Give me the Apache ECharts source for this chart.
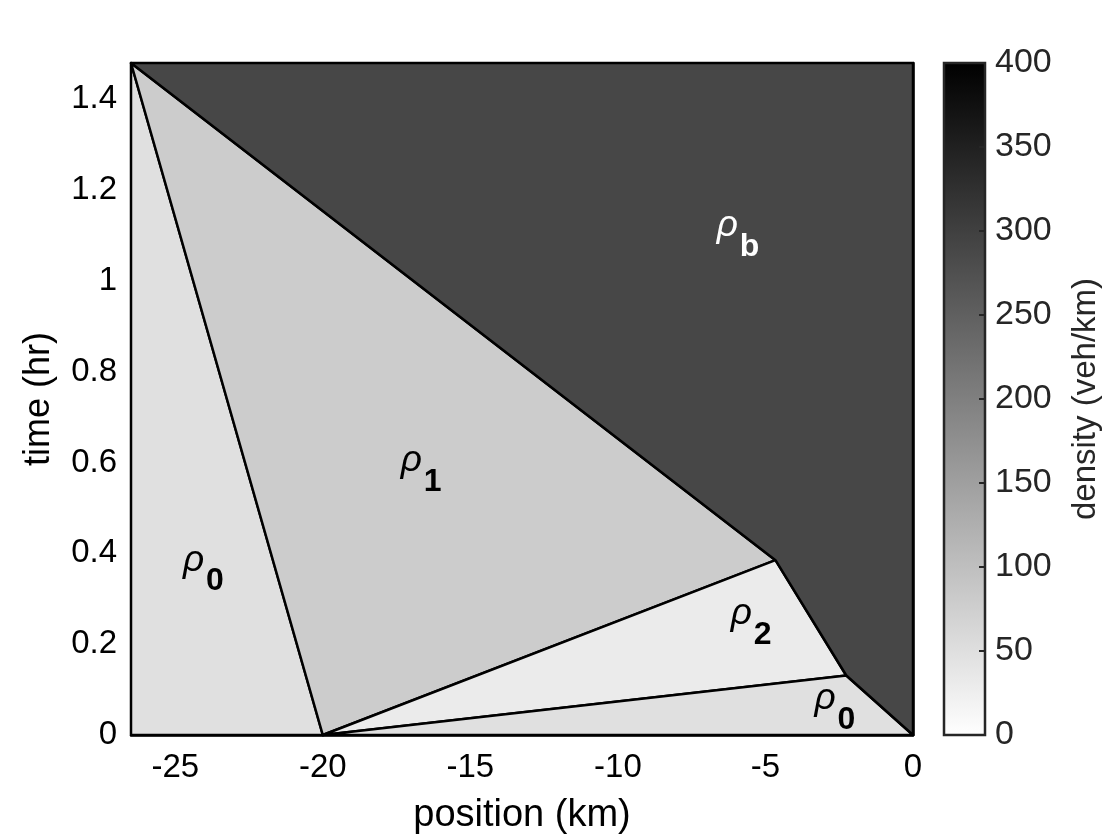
<!DOCTYPE html>
<html>
<head>
<meta charset="utf-8">
<script src="https://cdn.jsdelivr.net/npm/echarts@6/dist/echarts.min.js"></script>
<style>
  html, body { margin: 0; padding: 0; background: #fff; }
  #chart { width: 1120px; height: 840px; }
</style>
</head>
<body>
<div id="chart"></div>
<script>
// axis extents and tick labels
var xMin = -26.5, xMax = 0;
var tMin = 0, tMax = 1.48;
var xTicks = [-25, -20, -15, -10, -5, 0];
var tTicks = [0, 0.2, 0.4, 0.6, 0.8, 1, 1.2, 1.4];
var densityTicks = [0, 50, 100, 150, 200, 250, 300, 350, 400];

// regions of constant density: corners as [position km, time hr]
var regionSub = ['0', '1', '2', '0', 'b'];
var regionDensity = [49, 80, 31, 49, 288];
var regionVertices = [
  [[-26.5, 1.48], [-20, 0], [-26.5, 0]],
  [[-26.5, 1.48], [-20, 0], [-4.66, 0.385]],
  [[-20, 0], [-4.66, 0.385], [-2.26, 0.131]],
  [[-20, 0], [-2.26, 0.131], [0, 0]],
  [[-26.5, 1.48], [0, 1.48], [0, 0], [-2.26, 0.131], [-4.66, 0.385]]
];

// where each ρ label sits (position, time) and which region it names
var labelX = [-24.74, -17.36, -6.18, -3.34, -6.65];
var labelT = [0.384, 0.604, 0.267, 0.080, 1.121];
var labelRegion = [0, 1, 2, 3, 4];

var FONT = '"Liberation Sans", Helvetica, Arial, sans-serif';

var chart = echarts.init(document.getElementById('chart'), null, { renderer: 'canvas' });

function renderRegion(params, api) {
  var pts = regionVertices[params.dataIndex].map(function (p) { return api.coord(p); });
  return {
    type: 'polygon',
    shape: { points: pts },
    style: { fill: api.visual('color'), stroke: '#000', lineWidth: 2.5, lineJoin: 'round' }
  };
}

function renderLabel(params, api) {
  var p = api.coord([api.value(0), api.value(1)]);
  var r = api.value(2);
  var col = regionDensity[r] > 200 ? '#fff' : '#000';
  return {
    type: 'group',
    children: [
      { type: 'text', x: p[0], y: p[1],
        style: { text: 'ρ', fill: col, font: 'italic 37px ' + FONT, textAlign: 'left', textVerticalAlign: 'middle' } },
      { type: 'text', x: p[0] + 23, y: p[1] + 21,
        style: { text: regionSub[r], fill: col, font: 'bold 32px ' + FONT, textAlign: 'left', textVerticalAlign: 'middle' } }
    ]
  };
}

function renderColorbar(params, api) {
  var p0 = api.coord([0, densityTicks[0]]);
  var p1 = api.coord([1, densityTicks[densityTicks.length - 1]]);
  var children = [{
    type: 'rect',
    shape: { x: p0[0], y: p1[1], width: p1[0] - p0[0], height: p0[1] - p1[1] },
    style: {
      fill: new echarts.graphic.LinearGradient(0, 1, 0, 0, [
        { offset: 0, color: '#ffffff' },
        { offset: 1, color: '#000000' }
      ]),
      stroke: '#262626',
      lineWidth: 2.5
    }
  }];
  // inward ticks on the right edge of the bar
  densityTicks.forEach(function (d) {
    var q = api.coord([1, d]);
    children.push({
      type: 'line',
      shape: { x1: q[0], y1: q[1], x2: q[0] - 6, y2: q[1] },
      style: { stroke: '#262626', lineWidth: 2 }
    });
  });
  return { type: 'group', children: children };
}

var option = {
  backgroundColor: '#fff',
  animation: false,
  textStyle: { fontFamily: FONT },
  grid: [
    { left: 131, top: 63, width: 782, height: 672 },
    { left: 944, top: 63, width: 41, height: 672 }
  ],
  xAxis: [
    {
      type: 'value', gridIndex: 0, min: xMin, max: xMax,
      name: 'position (km)', nameLocation: 'middle', nameGap: 62,
      nameTextStyle: { fontSize: 38, color: '#000', fontFamily: FONT },
      axisLine: { show: true, lineStyle: { color: '#000', width: 2.5 } },
      axisTick: { show: false },
      splitLine: { show: false },
      axisLabel: { customValues: xTicks, fontSize: 33, color: '#000', margin: 16, fontFamily: FONT }
    },
    { type: 'value', gridIndex: 1, min: 0, max: 1, show: false }
  ],
  yAxis: [
    {
      type: 'value', gridIndex: 0, min: tMin, max: tMax,
      name: 'time (hr)', nameLocation: 'middle', nameGap: 74, nameRotate: 90,
      nameTextStyle: { fontSize: 36, color: '#000', fontFamily: FONT },
      axisLine: { show: true, lineStyle: { color: '#000', width: 2.5 } },
      axisTick: { show: false },
      splitLine: { show: false },
      axisLabel: { customValues: tTicks, fontSize: 33, color: '#000', margin: 14, fontFamily: FONT }
    },
    {
      type: 'value', gridIndex: 1, min: 0, max: 400, position: 'right',
      name: 'density (veh/km)', nameLocation: 'middle', nameGap: 84, nameRotate: 90,
      nameTextStyle: { fontSize: 33, color: '#262626', fontFamily: FONT },
      axisLine: { show: false },
      axisTick: { show: false },
      splitLine: { show: false },
      axisLabel: { customValues: densityTicks, fontSize: 34, color: '#262626', margin: 10, fontFamily: FONT }
    }
  ],
  visualMap: {
    show: false, type: 'continuous', seriesIndex: 0, dimension: 1,
    min: 0, max: 400, inRange: { color: ['#ffffff', '#000000'] }
  },
  series: [
    {
      type: 'custom', xAxisIndex: 0, yAxisIndex: 0,
      dimensions: ['region', 'density'],
      encode: { itemName: 0, value: 1 },
      data: regionDensity.map(function (d, i) { return [i, d]; }),
      renderItem: renderRegion, silent: true, z: 2
    },
    {
      type: 'custom', xAxisIndex: 0, yAxisIndex: 0,
      encode: { x: 0, y: 1 },
      data: labelX.map(function (x, i) { return [x, labelT[i], labelRegion[i]]; }),
      renderItem: renderLabel, silent: true, z: 3
    },
    {
      type: 'custom', xAxisIndex: 1, yAxisIndex: 1,
      data: [[0, 0]],
      renderItem: renderColorbar, silent: true, z: 1
    }
  ]
};

chart.setOption(option);
</script>
</body>
</html>
